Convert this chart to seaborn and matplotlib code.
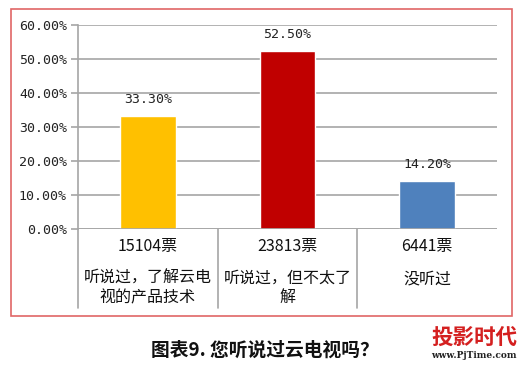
import matplotlib
matplotlib.use("Agg")
import matplotlib.pyplot as plt
import seaborn as sns
import pandas as pd
from matplotlib.patches import Rectangle
from matplotlib.lines import Line2D

categories = ["听说过，了解云电\n视的产品技术", "听说过，但不太了\n解", "没听过"]
votes = ["15104票", "23813票", "6441票"]
values = [0.333, 0.525, 0.142]
value_labels = ["33.30%", "52.50%", "14.20%"]
colors = ["#FFC000", "#C00000", "#4F81BD"]
yticks = [0.0, 0.1, 0.2, 0.3, 0.4, 0.5, 0.6]
ytick_labels = ["0.00%", "10.00%", "20.00%", "30.00%", "40.00%", "50.00%", "60.00%"]
title = "图表9. 您听说过云电视吗？"

sns.set_theme(style="white")
plt.rcParams['font.family'] = ['Noto Sans CJK SC', 'DejaVu Sans']

W, H = 523, 365
fig = plt.figure(figsize=(W / 100, H / 100), dpi=100)
fig.patch.set_facecolor("white")

def fx(px):
    return px / W

def fy(py):
    return 1 - py / H

ax_l, ax_r, ax_t, ax_b = 78, 497, 25, 229
ax = fig.add_axes([fx(ax_l), fy(ax_b), fx(ax_r) - fx(ax_l), fy(ax_t) - fy(ax_b)])

df = pd.DataFrame({"cat": categories, "val": values})
sns.barplot(data=df, x="cat", y="val", hue="cat", palette=colors, width=0.4,
            legend=False, ax=ax, saturation=1)

ax.set_xlim(-0.5, 2.5)
ax.set_ylim(0, 0.6)
ax.set_yticks(yticks)
ax.set_yticklabels(ytick_labels, fontsize=9.5, color="#222222", family="DejaVu Sans Mono")
ax.set_xticks([])
ax.set_xlabel("")
ax.set_ylabel("")
ax.yaxis.grid(True, color="#A6A6A6", linewidth=1.2)
ax.set_axisbelow(True)
for s in ["top", "right", "bottom"]:
    ax.spines[s].set_visible(False)
ax.spines["left"].set_color("#A6A6A6")
ax.spines["left"].set_linewidth(1.2)
ax.tick_params(axis="y", which="major", left=True, length=5, color="#A6A6A6", width=1.2, pad=3)
ax.axhline(0, color="#A6A6A6", linewidth=1.2)

for i, (v, lab) in enumerate(zip(values, value_labels)):
    ax.text(i, v + 0.047, lab, ha="center", va="center", fontsize=9.5,
            color="#222222", family="DejaVu Sans Mono")

# category area below axis
span = ax_b - ax_t
axis_frac_bottom = (ax_b - 308) / span
for xd in [-0.5, 0.5, 1.5]:
    ax.add_line(Line2D([xd, xd], [0, axis_frac_bottom], transform=ax.get_xaxis_transform(),
                       color="#A6A6A6", linewidth=1.2, clip_on=False))

trans = ax.get_xaxis_transform()
for i, (vt, cat) in enumerate(zip(votes, categories)):
    ax.text(i, (ax_b - 247) / span, vt, ha="center", va="center",
            fontsize=11.5, transform=trans, color="#111111")
    ax.text(i, (ax_b - 270) / span, cat, ha="center", va="top",
            fontsize=11.5, transform=trans, color="#111111", linespacing=1.17)

# red border
fig.add_artist(Rectangle((fx(11), fy(316)), fx(512) - fx(11), fy(9) - fy(316),
                         transform=fig.transFigure, fill=False, edgecolor="#E06666",
                         linewidth=1.2))

fig.text(fx(265), fy(350), title, ha="center", va="center", fontsize=13.5,
         fontweight="bold", color="#111111")

fig.text(fx(474), fy(337), "投影时代", ha="center", va="center", fontsize=15.5,
         fontweight="bold", color="#D42020")
fig.text(fx(474), fy(356), "www.PjTime.com", ha="center", va="center", fontsize=6.5,
         fontweight="bold", color="#222222", family="DejaVu Serif")

fig.savefig("out.png", dpi=100)
